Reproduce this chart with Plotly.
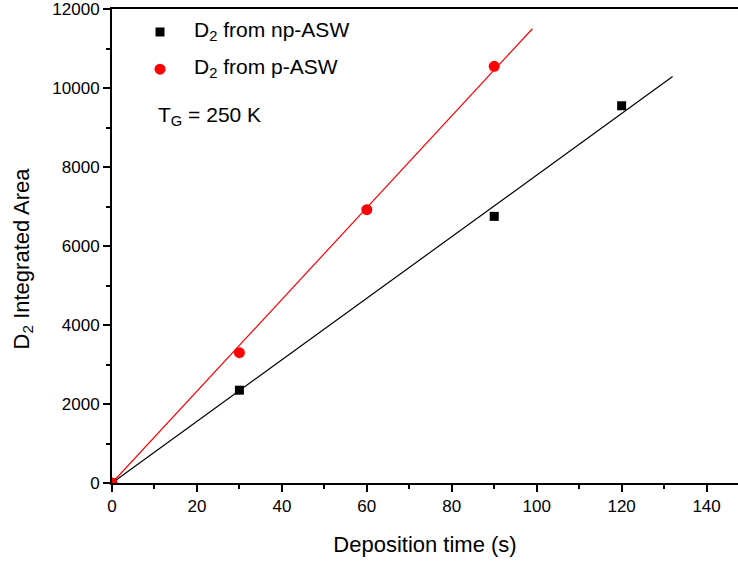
import numpy as np
import plotly.graph_objects as go

# Data
np_time = [0, 30, 90, 120]
np_area = [0, 2350, 6750, 9550]
p_time = [0, 30, 60, 90]
p_area = [0, 3300, 6920, 10550]
np_fit_end = 132
p_fit_end = 99
x_ticks = [0, 20, 40, 60, 80, 100, 120, 140]
y_ticks = [0, 2000, 4000, 6000, 8000, 10000, 12000]
series_names = ["D<sub>2</sub> from np-ASW", "D<sub>2</sub> from p-ASW"]

def slope_origin(x, y):
    x = np.array(x, float); y = np.array(y, float)
    return (x * y).sum() / (x * x).sum()

s_np = slope_origin(np_time, np_area)
s_p = slope_origin(p_time, p_area)

FONT = "Arial, Liberation Sans, sans-serif"
fig = go.Figure()
fig.add_trace(go.Scatter(x=[0, np_fit_end], y=[0, s_np * np_fit_end], mode="lines",
                         line=dict(color="black", width=1.2), showlegend=False, hoverinfo="skip"))
fig.add_trace(go.Scatter(x=[0, p_fit_end], y=[0, s_p * p_fit_end], mode="lines",
                         line=dict(color="red", width=1.2), showlegend=False, hoverinfo="skip"))
fig.add_trace(go.Scatter(x=np_time, y=np_area, mode="markers", name=series_names[0], showlegend=False,
                         marker=dict(symbol="square", size=9, color="black")))
fig.add_trace(go.Scatter(x=p_time, y=p_area, mode="markers", name=series_names[1], showlegend=False,
                         marker=dict(symbol="circle", size=11, color="red")))

# custom legend (symbols as shapes, labels as annotations)
leg_x = 0.0767
fig.add_shape(type="rect", xref="paper", yref="paper", xsizemode="pixel", ysizemode="pixel",
              xanchor=leg_x, yanchor=0.9515, x0=-4.5, x1=4.5, y0=-4.5, y1=4.5,
              fillcolor="black", line=dict(width=0))
fig.add_shape(type="circle", xref="paper", yref="paper", xsizemode="pixel", ysizemode="pixel",
              xanchor=leg_x, yanchor=0.873, x0=-5.5, x1=5.5, y0=-5.5, y1=5.5,
              fillcolor="red", line=dict(width=0))
for name, yy in zip(series_names, [0.953, 0.875]):
    fig.add_annotation(x=0.1275, y=yy, xref="paper", yref="paper", xanchor="left", yanchor="middle",
                       text=name, showarrow=False, font=dict(size=21, color="black", family=FONT))

fig.add_annotation(x=0.071, y=0.774, xref="paper", yref="paper", xanchor="left", yanchor="middle",
                   text="T<sub>G</sub> = 250 K", showarrow=False, font=dict(size=21, color="black", family=FONT))

# y-axis title (placed as in the reference, slightly below axis centre)
fig.add_annotation(x=-0.142, y=0.474, xref="paper", yref="paper", xanchor="center", yanchor="middle",
                   textangle=-90, text="D<sub>2</sub> Integrated Area", showarrow=False,
                   font=dict(size=22, color="black", family=FONT))

axis_common = dict(showline=True, linecolor="black", linewidth=2, ticks="outside", ticklen=7,
                   tickwidth=2, tickcolor="black", showgrid=False, zeroline=False, automargin=False,
                   ticklabeloverflow="allow",
                   tickfont=dict(size=17, color="black", family=FONT))

fig.update_layout(
    width=738, height=561,
    margin=dict(l=112, r=0, t=9, b=78),
    plot_bgcolor="white", paper_bgcolor="white",
    font=dict(family=FONT, color="black"),
    showlegend=False,
    xaxis=dict(range=[0, 147.4], tickvals=x_ticks, ticktext=[str(v) for v in x_ticks], mirror=True,
               title=dict(text="Deposition time (s)", font=dict(size=22, family=FONT), standoff=21),
               **axis_common),
    yaxis=dict(range=[0, 12000], tickvals=y_ticks, ticktext=[str(v) for v in y_ticks],
               **axis_common),
)
fig.update_xaxes(minor=dict(ticks="outside", ticklen=4, tickwidth=2, tickcolor="black", dtick=10, tick0=0))
fig.update_yaxes(minor=dict(ticks="outside", ticklen=4, tickwidth=2, tickcolor="black", dtick=1000, tick0=0))

fig.write_html("out.html", config={"displayModeBar": False},
               post_script="document.body.style.margin='0px';")
